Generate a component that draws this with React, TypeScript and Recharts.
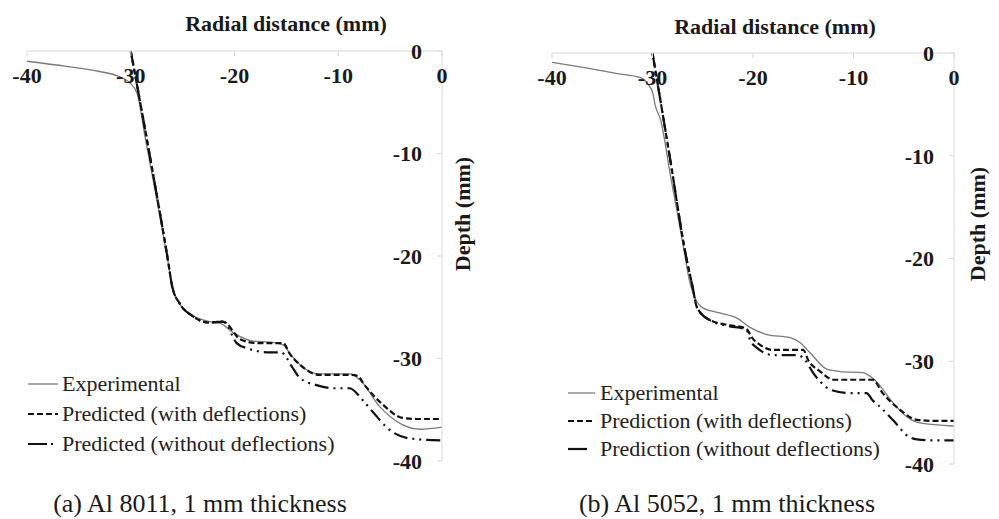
import { LineChart, Line, XAxis, YAxis, Legend } from 'recharts';

const FONT = '"Liberation Serif", "Times New Roman", Times, serif';
const AXIS = '#d9d9d9';

const xTicks = [-40, -30, -20, -10, 0];
const yTicks = [-40, -30, -20, -10, 0];

const namesA = ['Experimental', 'Predicted (with deflections)', 'Predicted (without deflections)'];
const namesB = ['Experimental', 'Prediction (with deflections)', 'Prediction (without deflections)'];

// [radial distance, depth] in mm
const expA = [
  [-40, -1.0], [-36.2, -1.5], [-33.0, -2.0], [-31.1, -2.5], [-30.1, -3.1], [-29.4, -4.1],
  [-28.6, -8.5], [-27.4, -15.0], [-26.4, -20.6], [-26.0, -23.0], [-25.4, -24.5], [-24.0, -25.8],
  [-22.4, -26.4], [-21.3, -26.6], [-20.1, -27.5], [-18.2, -28.3], [-16.6, -28.4], [-15.3, -28.7],
  [-14.6, -29.6], [-13.7, -30.6], [-11.8, -31.5], [-8.9, -31.5], [-7.9, -32.1], [-6.0, -34.7],
  [-4.1, -36.3], [-2.1, -36.9], [0, -36.7],
];
const withA = [
  [-30.0, 0], [-28.2, -10], [-26.4, -20.5], [-26.0, -23.0], [-25.3, -24.6], [-24.0, -25.9],
  [-22.4, -26.5], [-21.2, -26.4], [-20.7, -26.6], [-20.1, -27.4], [-19.5, -28.1], [-17.8, -28.5],
  [-15.3, -28.5], [-14.7, -29.5], [-13.7, -30.6], [-11.8, -31.6], [-8.9, -31.6], [-8.1, -31.7],
  [-7.6, -32.4], [-5.7, -34.5], [-3.8, -35.8], [-2.5, -35.9], [0, -35.9],
];
const withoutA = [
  [-30.0, 0], [-28.2, -10], [-26.4, -20.5], [-26.0, -23.0], [-25.3, -24.6], [-24.0, -25.9],
  [-22.4, -26.5], [-21.2, -26.4], [-20.7, -26.7], [-20.2, -27.8], [-19.8, -28.5], [-18.8, -29.0],
  [-16.6, -29.4], [-15.5, -29.4], [-15.0, -29.9], [-14.4, -30.9], [-13.7, -31.9], [-12.1, -32.6],
  [-10.5, -32.9], [-8.9, -32.9], [-7.7, -34.0], [-6.6, -35.3], [-5.0, -37.0], [-3.1, -37.8],
  [0, -38.0],
];

const expB = [
  [-40, -0.9], [-36.9, -1.4], [-33.5, -2.0], [-31.2, -2.4], [-30.4, -3.1], [-30.0, -3.8],
  [-29.7, -5.2], [-29.2, -6.5], [-28.2, -12.0], [-26.9, -19.0], [-26.4, -21.8], [-26.0, -23.3],
  [-25.0, -24.8], [-23.3, -25.3], [-21.6, -25.8], [-20.3, -26.7], [-18.6, -27.4], [-16.3, -27.7],
  [-15.3, -28.2], [-14.3, -29.2], [-12.6, -30.8], [-11.3, -31.0], [-9.1, -31.1], [-7.9, -31.8],
  [-6.1, -34.0], [-4.7, -35.4], [-3.4, -36.0], [0, -36.3],
];
const withB = [
  [-30.0, 0], [-28.3, -10], [-26.6, -20.1], [-26.0, -22.8], [-25.6, -24.7], [-24.3, -26.0],
  [-22.3, -26.5], [-21.0, -26.7], [-20.6, -26.9], [-20.1, -27.7], [-19.3, -28.4], [-18.0, -28.9],
  [-15.0, -28.9], [-14.5, -29.9], [-13.3, -31.0], [-12.0, -31.8], [-8.1, -31.8], [-7.1, -33.1],
  [-5.4, -34.7], [-3.7, -35.7], [-2.0, -35.8], [0, -35.8],
];
const withoutB = [
  [-30.0, 0], [-28.3, -10], [-26.6, -20.1], [-26.0, -22.8], [-25.6, -24.7], [-24.3, -26.0],
  [-22.3, -26.6], [-21.0, -26.8], [-20.6, -27.0], [-20.3, -27.9], [-19.6, -28.7], [-18.0, -29.4],
  [-15.6, -29.4], [-14.8, -29.9], [-14.1, -31.0], [-13.3, -32.0], [-12.2, -32.8], [-10.3, -33.1],
  [-8.7, -33.1], [-8.1, -33.8], [-7.4, -34.4], [-6.0, -35.8], [-4.7, -37.2], [-3.7, -37.6],
  [-2.0, -37.7], [0, -37.7],
];

const toPts = (arr: number[][]) => arr.map(([x, y]) => ({ x, y }));

const STYLES = [
  { stroke: '#7a7a7a', width: 1.3, dash: undefined as string | undefined },
  { stroke: '#111', width: 2.2, dash: '6 3' },
  { stroke: '#111', width: 2.2, dash: '14 5 2 5 2 5' },
];

const tickStyle = { fontFamily: FONT, fontSize: 22, fontWeight: 700, fill: '#1a1a1a' };

type PanelProps = {
  left: number;
  width: number;
  margin: { top: number; right: number; bottom: number; left: number };
  names: string[];
  series: number[][][];
  legend: { left: number; top: number; rowH: number; sampleW: number; gap: number; dashes: (string | undefined)[] };
};

const Panel = ({ left, width, margin, names, series, legend }: PanelProps) => {
  const renderLegend = () => (
    <div style={{ fontFamily: FONT, fontSize: 22, color: '#222', lineHeight: 1 }}>
      {names.map((n, i) => (
        <div key={n} style={{ display: 'flex', alignItems: 'center', height: legend.rowH }}>
          <svg width={legend.sampleW} height={6} style={{ display: 'block' }}>
            <line
              x1={0}
              y1={3}
              x2={legend.sampleW}
              y2={3}
              stroke={STYLES[i].stroke}
              strokeWidth={STYLES[i].width}
              strokeDasharray={legend.dashes[i]}
            />
          </svg>
          <span style={{ marginLeft: legend.gap, whiteSpace: 'nowrap' }}>{n}</span>
        </div>
      ))}
    </div>
  );

  return (
    <div style={{ position: 'absolute', left, top: 0 }}>
      <LineChart width={width} height={519} margin={margin}>
        <XAxis
          type="number"
          dataKey="x"
          orientation="top"
          mirror
          domain={[-40, 0]}
          ticks={xTicks}
          interval={0}
          stroke={AXIS}
          tickSize={5}
          tickMargin={11}
          tick={tickStyle}
          allowDuplicatedCategory={false}
        />
        <YAxis
          type="number"
          dataKey="y"
          orientation="right"
          mirror
          domain={[-40, 0]}
          ticks={yTicks}
          interval={0}
          stroke={AXIS}
          tickSize={5}
          tickMargin={15}
          tick={tickStyle}
        />
        <Legend
          layout="vertical"
          align="center"
          verticalAlign="middle"
          content={renderLegend}
          wrapperStyle={{ left: legend.left, top: legend.top, width: 420 }}
        />
        {series.map((s, i) => (
          <Line
            key={names[i]}
            name={names[i]}
            data={toPts(s)}
            dataKey="y"
            type="monotone"
            stroke={STYLES[i].stroke}
            strokeWidth={STYLES[i].width}
            strokeDasharray={STYLES[i].dash}
            dot={false}
            activeDot={false}
            isAnimationActive={false}
          />
        ))}
      </LineChart>
    </div>
  );
};

const App = () => (
  <div style={{ position: 'absolute', left: 0, top: 0, width: 999, height: 519, background: '#fff' }}>
    <Panel
      left={0}
      width={500}
      margin={{ top: 51, right: 58, bottom: 58, left: 27 }}
      names={namesA}
      series={[expA, withA, withoutA]}
      legend={{ left: 28, top: 369, rowH: 30, sampleW: 30, gap: 4, dashes: [undefined, '6 3', '19 4 2 10'] }}
    />
    <Panel
      left={500}
      width={499}
      margin={{ top: 53, right: 45, bottom: 55, left: 52 }}
      names={namesB}
      series={[expB, withB, withoutB]}
      legend={{ left: 68, top: 379, rowH: 28, sampleW: 27, gap: 5, dashes: [undefined, '6 3', '19 10'] }}
    />
    <svg
      width={999}
      height={519}
      style={{ position: 'absolute', left: 0, top: 0, pointerEvents: 'none' }}
      fontFamily={FONT}
    >
      <text x={286} y={31} textAnchor="middle" fontSize={22} fontWeight={700} fill="#1a1a1a">
        Radial distance (mm)
      </text>
      <text x={775} y={34} textAnchor="middle" fontSize={22} fontWeight={700} fill="#1a1a1a">
        Radial distance (mm)
      </text>
      <text
        x={0}
        y={0}
        transform="translate(470 214) rotate(-90)"
        textAnchor="middle"
        fontSize={22}
        fontWeight={700}
        fill="#1a1a1a"
      >
        Depth (mm)
      </text>
      <text
        x={0}
        y={0}
        transform="translate(985 224) rotate(-90)"
        textAnchor="middle"
        fontSize={22}
        fontWeight={700}
        fill="#1a1a1a"
      >
        Depth (mm)
      </text>
      <text x={200} y={512} textAnchor="middle" fontSize={26} fill="#1a1a1a">
        (a) Al 8011, 1 mm thickness
      </text>
      <text x={727} y={512} textAnchor="middle" fontSize={26} fill="#1a1a1a">
        (b) Al 5052, 1 mm thickness
      </text>
    </svg>
  </div>
);

export default App;
